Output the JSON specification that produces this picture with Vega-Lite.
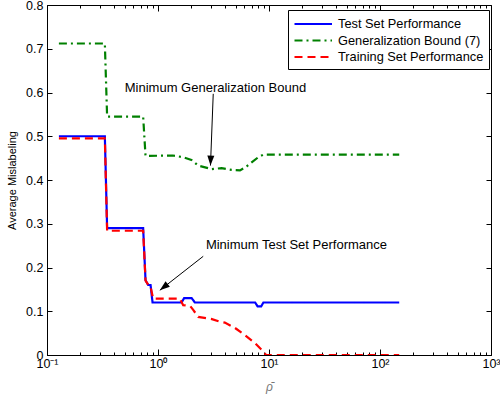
{
  "$schema": "https://vega.github.io/schema/vega-lite/v6.json",
  "width": 444,
  "height": 350,
  "autosize": {"type": "none"},
  "padding": {"left": 47, "top": 5, "right": 9, "bottom": 45},
  "background": "white",
  "config": {
    "font": "Liberation Sans",
    "view": {"stroke": "black", "strokeWidth": 1},
    "axis": {
      "domainColor": "black", "tickColor": "black", "labelColor": "black",
      "labelFont": "Liberation Sans", "labelFontSize": 12.5, "grid": false,
      "titleFont": "Liberation Sans", "titleFontWeight": "normal", "titleColor": "black"
    },
    "text": {"font": "Liberation Sans"}
  },
  "datasets": {
    "series": [
      {"rho": 0.128, "mis": 0.5, "series": "Test Set Performance"},
      {"rho": 0.332, "mis": 0.5, "series": "Test Set Performance"},
      {"rho": 0.348, "mis": 0.29, "series": "Test Set Performance"},
      {"rho": 0.735, "mis": 0.29, "series": "Test Set Performance"},
      {"rho": 0.772, "mis": 0.171, "series": "Test Set Performance"},
      {"rho": 0.815, "mis": 0.16, "series": "Test Set Performance"},
      {"rho": 0.857, "mis": 0.16, "series": "Test Set Performance"},
      {"rho": 0.893, "mis": 0.12, "series": "Test Set Performance"},
      {"rho": 1.63, "mis": 0.12, "series": "Test Set Performance"},
      {"rho": 1.72, "mis": 0.13, "series": "Test Set Performance"},
      {"rho": 2.01, "mis": 0.13, "series": "Test Set Performance"},
      {"rho": 2.15, "mis": 0.12, "series": "Test Set Performance"},
      {"rho": 7.5, "mis": 0.12, "series": "Test Set Performance"},
      {"rho": 7.9, "mis": 0.111, "series": "Test Set Performance"},
      {"rho": 8.5, "mis": 0.111, "series": "Test Set Performance"},
      {"rho": 8.9, "mis": 0.12, "series": "Test Set Performance"},
      {"rho": 149, "mis": 0.12, "series": "Test Set Performance"},
      {"rho": 0.128, "mis": 0.712, "series": "Generalization Bound (7)"},
      {"rho": 0.332, "mis": 0.712, "series": "Generalization Bound (7)"},
      {"rho": 0.348, "mis": 0.545, "series": "Generalization Bound (7)"},
      {"rho": 0.735, "mis": 0.545, "series": "Generalization Bound (7)"},
      {"rho": 0.772, "mis": 0.455, "series": "Generalization Bound (7)"},
      {"rho": 1.36, "mis": 0.456, "series": "Generalization Bound (7)"},
      {"rho": 1.686, "mis": 0.452, "series": "Generalization Bound (7)"},
      {"rho": 2.0, "mis": 0.446, "series": "Generalization Bound (7)"},
      {"rho": 2.3, "mis": 0.433, "series": "Generalization Bound (7)"},
      {"rho": 3.04, "mis": 0.425, "series": "Generalization Bound (7)"},
      {"rho": 3.74, "mis": 0.427, "series": "Generalization Bound (7)"},
      {"rho": 4.61, "mis": 0.423, "series": "Generalization Bound (7)"},
      {"rho": 5.48, "mis": 0.422, "series": "Generalization Bound (7)"},
      {"rho": 6.29, "mis": 0.431, "series": "Generalization Bound (7)"},
      {"rho": 8.0, "mis": 0.452, "series": "Generalization Bound (7)"},
      {"rho": 8.9, "mis": 0.458, "series": "Generalization Bound (7)"},
      {"rho": 149, "mis": 0.458, "series": "Generalization Bound (7)"},
      {"rho": 0.128, "mis": 0.495, "series": "Training Set Performance"},
      {"rho": 0.332, "mis": 0.495, "series": "Training Set Performance"},
      {"rho": 0.348, "mis": 0.284, "series": "Training Set Performance"},
      {"rho": 0.735, "mis": 0.284, "series": "Training Set Performance"},
      {"rho": 0.772, "mis": 0.17, "series": "Training Set Performance"},
      {"rho": 0.83, "mis": 0.158, "series": "Training Set Performance"},
      {"rho": 0.857, "mis": 0.156, "series": "Training Set Performance"},
      {"rho": 0.904, "mis": 0.129, "series": "Training Set Performance"},
      {"rho": 1.574, "mis": 0.129, "series": "Training Set Performance"},
      {"rho": 1.686, "mis": 0.114, "series": "Training Set Performance"},
      {"rho": 1.95, "mis": 0.112, "series": "Training Set Performance"},
      {"rho": 2.076, "mis": 0.103, "series": "Training Set Performance"},
      {"rho": 2.302, "mis": 0.087, "series": "Training Set Performance"},
      {"rho": 2.76, "mis": 0.084, "series": "Training Set Performance"},
      {"rho": 3.06, "mis": 0.082, "series": "Training Set Performance"},
      {"rho": 3.61, "mis": 0.076, "series": "Training Set Performance"},
      {"rho": 4.0, "mis": 0.074, "series": "Training Set Performance"},
      {"rho": 4.93, "mis": 0.062, "series": "Training Set Performance"},
      {"rho": 6.08, "mis": 0.045, "series": "Training Set Performance"},
      {"rho": 7.48, "mis": 0.027, "series": "Training Set Performance"},
      {"rho": 8.88, "mis": 0.008, "series": "Training Set Performance"},
      {"rho": 9.4, "mis": 0.0, "series": "Training Set Performance"},
      {"rho": 149, "mis": 0.0, "series": "Training Set Performance"}
    ],
    "notes": [
      {"rho": 0.502, "mis": 0.611, "label": "Minimum Generalization Bound"},
      {"rho": 2.70, "mis": 0.251, "label": "Minimum Test Set Performance"}
    ],
    "arrows": [
      {"rho": 3.145, "mis": 0.597, "rho2": 2.97, "mis2": 0.433},
      {"rho": 2.555, "mis": 0.2256, "rho2": 1.039, "mis2": 0.148}
    ]
  },
  "layer": [
    {
      "data": {"name": "series"},
      "mark": {"type": "line", "strokeWidth": 2.2, "clip": true},
      "encoding": {
        "x": {
          "field": "rho", "type": "quantitative",
          "scale": {"type": "log", "domain": [0.1, 1000]},
          "axis": {
            "orient": "bottom",
            "values": [0.1,0.2,0.3,0.4,0.5,0.6,0.7,0.8,0.9,1,2,3,4,5,6,7,8,9,10,20,30,40,50,60,70,80,90,100,200,300,400,500,600,700,800,900,1000],
            "labelExpr": "abs(log(datum.value)/LN10 - round(log(datum.value)/LN10)) < 0.001 ? (round(log(datum.value)/LN10) == -1 ? '10⁻¹' : round(log(datum.value)/LN10) == 0 ? '10⁰' : round(log(datum.value)/LN10) == 1 ? '10¹' : round(log(datum.value)/LN10) == 2 ? '10²' : '10³') : ''",
            "tickSize": {"condition": {"test": "abs(log(datum.value)/LN10 - round(log(datum.value)/LN10)) < 0.001", "value": -6}, "value": -3},
            "labelPadding": 8,
            "labelOverlap": false, "labelFlush": false, "labelBound": false,
            "title": "ρ̄", "titleFontStyle": "italic", "titleColor": "#777777", "titleFontSize": 12, "titlePadding": 9
          }
        },
        "y": {
          "field": "mis", "type": "quantitative",
          "scale": {"domain": [0, 0.8]},
          "axis": {
            "orient": "left",
            "values": [0,0.1,0.2,0.3,0.4,0.5,0.6,0.7,0.8],
            "labelExpr": "datum.value == 0 ? '0' : format(datum.value, '.1f')",
            "tickSize": -5, "labelPadding": 9, "labelOverlap": false, "labelFlush": false, "labelBound": false,
            "title": "Average Mislabeling", "titleFontSize": 11, "titlePadding": 8
          }
        },
        "color": {
          "field": "series", "type": "nominal",
          "scale": {"domain": ["Test Set Performance", "Generalization Bound (7)", "Training Set Performance"], "range": ["#0000ff", "#008000", "#ff0000"]},
          "legend": {"title": null, "orient": "none", "legendX": 241, "legendY": 5, "strokeColor": "black", "fillColor": "white", "padding": 5, "labelFontSize": 12.8, "labelFont": "Liberation Sans", "labelColor": "black", "symbolType": "M-1,0H4", "symbolStrokeWidth": 2.2, "symbolSize": 225, "labelOffset": 27, "rowPadding": 0.5, "labelLimit": 0, "cornerRadius": 0}
        },
        "strokeDash": {
          "field": "series", "type": "nominal",
          "scale": {"domain": ["Test Set Performance", "Generalization Bound (7)", "Training Set Performance"], "range": [[1, 0], [8, 4, 2, 4], [8, 5]]},
          "legend": {"title": null, "orient": "none", "legendX": 241, "legendY": 5, "strokeColor": "black", "fillColor": "white", "padding": 5, "labelFontSize": 12.8, "labelFont": "Liberation Sans", "labelColor": "black", "symbolType": "M-1,0H4", "symbolStrokeWidth": 2.2, "symbolSize": 225, "labelOffset": 27, "rowPadding": 0.5, "labelLimit": 0, "cornerRadius": 0}
        }
      }
    },
    {
      "data": {"name": "series"},
      "mark": {"type": "line", "opacity": 0},
      "encoding": {
        "x": {
          "field": "rho", "type": "quantitative",
          "axis": {
            "orient": "top", "labels": false, "title": null, "domain": false,
            "values": [0.1,0.2,0.3,0.4,0.5,0.6,0.7,0.8,0.9,1,2,3,4,5,6,7,8,9,10,20,30,40,50,60,70,80,90,100,200,300,400,500,600,700,800,900,1000],
            "tickSize": {"condition": {"test": "abs(log(datum.value)/LN10 - round(log(datum.value)/LN10)) < 0.001", "value": -6}, "value": -3}
          }
        },
        "y": {
          "field": "mis", "type": "quantitative",
          "axis": {"orient": "right", "labels": false, "title": null, "domain": false, "values": [0,0.1,0.2,0.3,0.4,0.5,0.6,0.7,0.8], "tickSize": -5}
        }
      }
    },
    {
      "data": {"name": "arrows"},
      "mark": {"type": "rule", "color": "black", "strokeWidth": 1},
      "encoding": {
        "x": {"field": "rho", "type": "quantitative", "axis": null},
        "y": {"field": "mis", "type": "quantitative", "axis": null},
        "x2": {"field": "rho2"},
        "y2": {"field": "mis2"}
      }
    },
    {
      "data": {"values": [{"rho": 2.97, "mis": 0.433}]},
      "mark": {"type": "point", "shape": "M0,0L-0.7,2L0.7,2Z", "filled": true, "color": "black", "opacity": 1, "size": 100, "angle": 182},
      "encoding": {
        "x": {"field": "rho", "type": "quantitative", "axis": null},
        "y": {"field": "mis", "type": "quantitative", "axis": null}
      }
    },
    {
      "data": {"values": [{"rho": 1.039, "mis": 0.148}]},
      "mark": {"type": "point", "shape": "M0,0L-0.7,2L0.7,2Z", "filled": true, "color": "black", "opacity": 1, "size": 100, "angle": 231.7},
      "encoding": {
        "x": {"field": "rho", "type": "quantitative", "axis": null},
        "y": {"field": "mis", "type": "quantitative", "axis": null}
      }
    },
    {
      "data": {"name": "notes"},
      "mark": {"type": "text", "align": "left", "baseline": "middle", "fontSize": 13, "color": "black"},
      "encoding": {
        "x": {"field": "rho", "type": "quantitative", "axis": null},
        "y": {"field": "mis", "type": "quantitative", "axis": null},
        "text": {"field": "label"}
      }
    }
  ],
  "resolve": {"axis": {"x": "independent", "y": "independent"}}
}
